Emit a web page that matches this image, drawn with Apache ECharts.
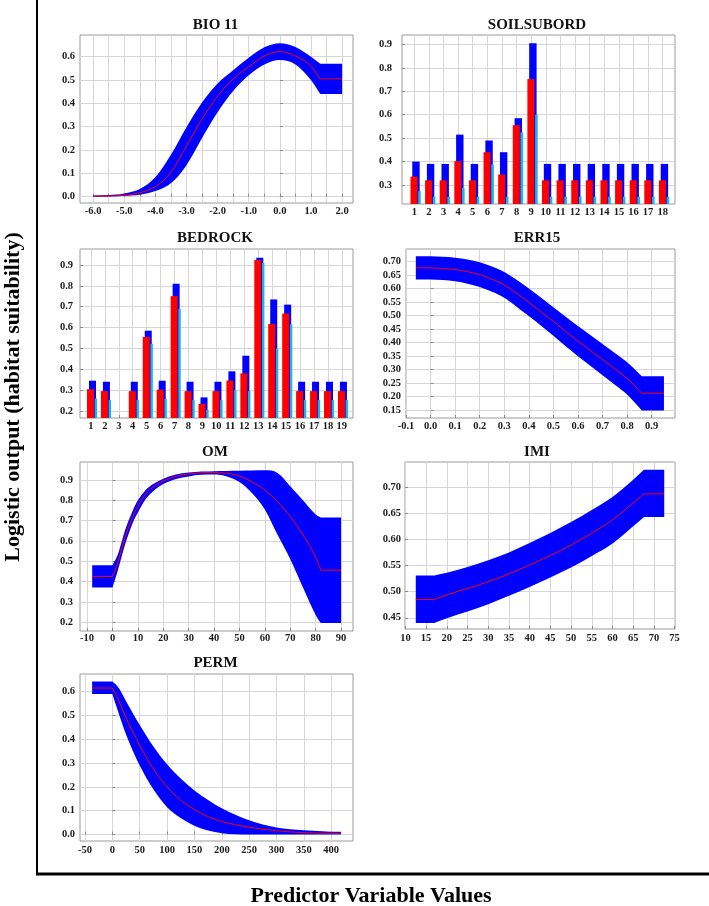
<!DOCTYPE html>
<html>
<head>
<meta charset="utf-8">
<title>Response curves</title>
<script src="https://cdn.jsdelivr.net/npm/echarts@6/dist/echarts.min.js"></script>
<style>
  html, body { margin: 0; padding: 0; background: #fff; }
  #main { width: 709px; height: 906px; }
</style>
</head>
<body>
<div id="main"></div>
<script>
// ---- BIO 11 ----
var bio11X     = [-6.0, -5.5, -5.0, -4.5, -4.0, -3.5, -3.0, -2.5, -2.0, -1.5, -1.0, -0.5, 0.0, 0.5, 1.0, 1.3, 2.0];
var bio11Mean  = [0.002, 0.003, 0.006, 0.017, 0.043, 0.105, 0.218, 0.333, 0.431, 0.505, 0.556, 0.603, 0.622, 0.603, 0.56, 0.505, 0.505];
var bio11Upper = [0.005, 0.007, 0.014, 0.033, 0.083, 0.18, 0.298, 0.404, 0.485, 0.542, 0.595, 0.64, 0.658, 0.642, 0.60, 0.57, 0.57];
var bio11Lower = [0.0, 0.001, 0.003, 0.008, 0.024, 0.058, 0.135, 0.252, 0.362, 0.453, 0.52, 0.567, 0.586, 0.567, 0.50, 0.44, 0.44];

// ---- SOILSUBORD ----
var soilCats  = [1, 2, 3, 4, 5, 6, 7, 8, 9, 10, 11, 12, 13, 14, 15, 16, 17, 18];
var soilUpper = [0.40, 0.39, 0.39, 0.515, 0.39, 0.49, 0.44, 0.585, 0.905, 0.39, 0.39, 0.39, 0.39, 0.39, 0.39, 0.39, 0.39, 0.39];
var soilMean  = [0.336, 0.32, 0.32, 0.402, 0.32, 0.44, 0.345, 0.555, 0.752, 0.32, 0.32, 0.32, 0.32, 0.32, 0.32, 0.32, 0.32, 0.32];
var soilLower = [0.273, 0.25, 0.25, 0.288, 0.25, 0.388, 0.25, 0.525, 0.60, 0.25, 0.25, 0.25, 0.25, 0.25, 0.25, 0.25, 0.25, 0.25];

// ---- BEDROCK ----
var bedCats  = [1, 2, 3, 4, 5, 6, 7, 8, 9, 10, 11, 12, 13, 14, 15, 16, 17, 18, 19];
var bedUpper = [0.345, 0.34, null, 0.34, 0.585, 0.345, 0.81, 0.34, 0.265, 0.34, 0.39, 0.465, 0.935, 0.735, 0.71, 0.34, 0.34, 0.34, 0.34];
var bedMean  = [0.304, 0.295, null, 0.295, 0.555, 0.302, 0.751, 0.295, 0.234, 0.295, 0.346, 0.38, 0.924, 0.617, 0.667, 0.295, 0.295, 0.295, 0.295];
var bedLower = [0.26, 0.252, null, 0.252, 0.522, 0.258, 0.69, 0.252, 0.205, 0.252, 0.30, 0.295, 0.91, 0.50, 0.616, 0.252, 0.252, 0.252, 0.252];

// ---- ERR15 ----
var errX     = [-0.06, 0.0, 0.05, 0.1, 0.15, 0.2, 0.25, 0.3, 0.35, 0.4, 0.45, 0.5, 0.55, 0.6, 0.65, 0.7, 0.75, 0.8, 0.86, 0.95];
var errMean  = [0.677, 0.677, 0.675, 0.671, 0.663, 0.652, 0.635, 0.614, 0.583, 0.549, 0.514, 0.478, 0.441, 0.405, 0.371, 0.337, 0.302, 0.267, 0.212, 0.212];
var errUpper = [0.72, 0.72, 0.718, 0.715, 0.708, 0.698, 0.682, 0.662, 0.633, 0.60, 0.566, 0.531, 0.496, 0.461, 0.428, 0.395, 0.361, 0.327, 0.275, 0.275];
var errLower = [0.634, 0.634, 0.632, 0.627, 0.618, 0.606, 0.588, 0.566, 0.533, 0.498, 0.462, 0.425, 0.386, 0.349, 0.314, 0.279, 0.243, 0.207, 0.148, 0.148];

// ---- OM ----
var omX     = [-8, 0, 2, 5, 8, 10, 13, 16, 20, 25, 30, 35, 40, 45, 50, 55, 60, 65, 70, 75, 80, 82, 90];
var omMean  = [0.425, 0.425, 0.49, 0.62, 0.72, 0.77, 0.83, 0.865, 0.895, 0.918, 0.93, 0.936, 0.937, 0.933, 0.92, 0.89, 0.85, 0.793, 0.72, 0.63, 0.52, 0.456, 0.456];
var omUpper = [0.48, 0.48, 0.53, 0.655, 0.75, 0.80, 0.85, 0.88, 0.907, 0.927, 0.937, 0.942, 0.944, 0.945, 0.946, 0.947, 0.948, 0.935, 0.87, 0.80, 0.73, 0.715, 0.715];
var omLower = [0.37, 0.37, 0.45, 0.585, 0.69, 0.74, 0.805, 0.845, 0.88, 0.905, 0.918, 0.926, 0.927, 0.918, 0.89, 0.835, 0.755, 0.63, 0.51, 0.37, 0.235, 0.195, 0.195];

// ---- IMI ----
var imiX     = [12.5, 17, 20, 25, 30, 35, 40, 45, 50, 55, 60, 65, 67.6, 72.5];
var imiMean  = [0.485, 0.485, 0.494, 0.506, 0.519, 0.534, 0.551, 0.569, 0.589, 0.612, 0.637, 0.67, 0.687, 0.687];
var imiUpper = [0.531, 0.531, 0.536, 0.547, 0.56, 0.575, 0.593, 0.612, 0.633, 0.656, 0.681, 0.714, 0.733, 0.733];
var imiLower = [0.44, 0.44, 0.449, 0.462, 0.476, 0.492, 0.509, 0.527, 0.546, 0.568, 0.592, 0.625, 0.643, 0.643];

// ---- PERM ----
var permX     = [-37, 0, 10, 25, 50, 75, 100, 125, 150, 175, 200, 250, 300, 350, 400, 418];
var permMean  = [0.615, 0.615, 0.57, 0.49, 0.375, 0.275, 0.2, 0.145, 0.105, 0.075, 0.055, 0.031, 0.016, 0.008, 0.005, 0.005];
var permUpper = [0.642, 0.642, 0.62, 0.56, 0.46, 0.37, 0.295, 0.235, 0.185, 0.145, 0.11, 0.06, 0.03, 0.018, 0.012, 0.012];
var permLower = [0.59, 0.59, 0.52, 0.42, 0.29, 0.19, 0.115, 0.07, 0.037, 0.017, 0.006, 0.0, 0.0, 0.0, 0.0, 0.0];

// ---- tick labels / grid lines ----
var bio11XLabels = [-6, -5, -4, -3, -2, -1, 0, 1, 2];
var bio11XGrid   = [-6, -5.5, -5, -4.5, -4, -3.5, -3, -2.5, -2, -1.5, -1, -0.5, 0, 0.5, 1, 1.5, 2];
var bio11YLabels = [0, 0.1, 0.2, 0.3, 0.4, 0.5, 0.6];
var soilYLabels  = [0.3, 0.4, 0.5, 0.6, 0.7, 0.8, 0.9];
var bedYLabels   = [0.2, 0.3, 0.4, 0.5, 0.6, 0.7, 0.8, 0.9];
var errXLabels   = [-0.1, 0, 0.1, 0.2, 0.3, 0.4, 0.5, 0.6, 0.7, 0.8, 0.9];
var errYLabels   = [0.15, 0.2, 0.25, 0.3, 0.35, 0.4, 0.45, 0.5, 0.55, 0.6, 0.65, 0.7];
var omXLabels    = [-10, 0, 10, 20, 30, 40, 50, 60, 70, 80, 90];
var omYLabels    = [0.2, 0.3, 0.4, 0.5, 0.6, 0.7, 0.8, 0.9];
var imiXLabels   = [10, 15, 20, 25, 30, 35, 40, 45, 50, 55, 60, 65, 70, 75];
var imiYLabels   = [0.45, 0.5, 0.55, 0.6, 0.65, 0.7];
var permXLabels  = [-50, 0, 50, 100, 150, 200, 250, 300, 350, 400];
var permYLabels  = [0, 0.1, 0.2, 0.3, 0.4, 0.5, 0.6];

var FONT = '"Liberation Serif", "Times New Roman", serif';
var BLUE = '#0000ff', RED = '#ff0000', CYAN = '#1cb4e4';

function fix(n) { return function (v) { return v.toFixed(n); }; }
function plain(v) { return String(v); }

function zip(xs, ys) {
    var out = [];
    for (var i = 0; i < xs.length; i++) {
        if (ys[i] != null) out.push([xs[i], ys[i]]);
    }
    return out;
}

function makeGrid(l, t, w, h) {
    return { left: l, top: t, width: w, height: h, show: true, borderColor: '#9a9a9a', borderWidth: 1 };
}

function makeAxis(gi, min, max, ticks, labels, fmt, margin) {
    return {
        type: 'value', gridIndex: gi, min: min, max: max,
        axisLine: { show: false },
        axisTick: { show: true, inside: true, length: 3, customValues: ticks, lineStyle: { color: '#8a8a8a' } },
        splitLine: { show: true, lineStyle: { color: '#d6d6d6', width: 1 } },
        axisLabel: {
            customValues: labels, formatter: fmt, margin: margin,
            fontFamily: FONT, fontWeight: 'bold', fontSize: 10.5, color: '#1a1a1a'
        }
    };
}

// monotone cubic segments through pixel points; flat runs stay flat, corners stay sharp
function curveSegs(pts) {
    var n = pts.length, d = [], m = [], segs = [], k;
    for (k = 0; k < n - 1; k++) d.push((pts[k + 1][1] - pts[k][1]) / (pts[k + 1][0] - pts[k][0]));
    m[0] = d[0];
    m[n - 1] = d[n - 2];
    for (k = 1; k < n - 1; k++) {
        var a = d[k - 1], b = d[k];
        if (a === 0 && b !== 0) m[k] = b;
        else if (b === 0 && a !== 0) m[k] = a;
        else if (a * b > 0) m[k] = (a + b) / 2;
        else m[k] = 0;
    }
    for (k = 0; k < n - 1; k++) {
        if (d[k] === 0) continue;
        var al = m[k] / d[k], be = m[k + 1] / d[k], s = al * al + be * be;
        if (s > 9) {
            var t = 3 / Math.sqrt(s);
            m[k] = t * al * d[k];
            m[k + 1] = t * be * d[k];
        }
    }
    for (k = 0; k < n - 1; k++) {
        var h = pts[k + 1][0] - pts[k][0];
        var m0 = d[k] === 0 ? 0 : m[k], m1 = d[k] === 0 ? 0 : m[k + 1];
        segs.push([pts[k][0] + h / 3, pts[k][1] + m0 * h / 3,
                   pts[k + 1][0] - h / 3, pts[k + 1][1] - m1 * h / 3]);
    }
    return segs;
}

function toPts(api, xs, ys) {
    return xs.map(function (x, i) { return api.coord([x, ys[i]]); });
}

// blue band between the lower and upper curve
function band(gi, xs, up, lo) {
    return {
        type: 'custom', xAxisIndex: gi, yAxisIndex: gi, silent: true, clip: true,
        data: [[xs[0], up[0]]],
        renderItem: function (params, api) {
            var pu = toPts(api, xs, up), pl = toPts(api, xs, lo);
            var su = curveSegs(pu), sl = curveSegs(pl), n = xs.length, k;
            var p = 'M' + pu[0][0] + ' ' + pu[0][1];
            for (k = 0; k < n - 1; k++) {
                p += 'C' + su[k][0] + ' ' + su[k][1] + ' ' + su[k][2] + ' ' + su[k][3] + ' ' + pu[k + 1][0] + ' ' + pu[k + 1][1];
            }
            p += 'L' + pl[n - 1][0] + ' ' + pl[n - 1][1];
            for (k = n - 2; k >= 0; k--) {
                p += 'C' + sl[k][2] + ' ' + sl[k][3] + ' ' + sl[k][0] + ' ' + sl[k][1] + ' ' + pl[k][0] + ' ' + pl[k][1];
            }
            p += 'Z';
            return { type: 'path', shape: { pathData: p }, style: { fill: BLUE } };
        }
    };
}

function meanLine(gi, xs, ys) {
    return {
        type: 'custom', xAxisIndex: gi, yAxisIndex: gi, silent: true, clip: true, z: 3,
        data: [[xs[0], ys[0]]],
        renderItem: function (params, api) {
            var pts = toPts(api, xs, ys), sg = curveSegs(pts);
            var p = 'M' + pts[0][0] + ' ' + pts[0][1];
            for (var k = 0; k < pts.length - 1; k++) {
                p += 'C' + sg[k][0] + ' ' + sg[k][1] + ' ' + sg[k][2] + ' ' + sg[k][3] + ' ' + pts[k + 1][0] + ' ' + pts[k + 1][1];
            }
            return { type: 'path', shape: { pathData: p }, style: { fill: 'none', stroke: RED, lineWidth: 1 } };
        }
    };
}

// bars for categorical variables, offset in px from the category position
function bars(gi, cats, vals, color, width, offset) {
    return {
        type: 'custom', xAxisIndex: gi, yAxisIndex: gi, silent: true, clip: true,
        data: zip(cats, vals),
        renderItem: function (params, api) {
            var top = api.coord([api.value(0), api.value(1)]);
            var cs = params.coordSys;
            var bottom = cs.y + cs.height;
            return {
                type: 'rect',
                shape: { x: top[0] + offset - width / 2, y: top[1], width: width, height: bottom - top[1] },
                style: { fill: color }
            };
        }
    };
}

function title(text, x, y) {
    return {
        type: 'text', x: x, y: y,
        style: { text: text, font: 'bold 15px ' + FONT, fill: '#111', textAlign: 'center', textVerticalAlign: 'middle' }
    };
}

var grids = [
    makeGrid(80, 35, 273, 168),    // BIO 11
    makeGrid(402, 35, 273, 169),   // SOILSUBORD
    makeGrid(80, 249, 273, 169),   // BEDROCK
    makeGrid(406, 249, 269, 169),  // ERR15
    makeGrid(80, 462, 273, 169),   // OM
    makeGrid(405, 462, 270, 167),  // IMI
    makeGrid(80, 674, 273, 167)    // PERM
];

var xAxes = [
    makeAxis(0, -6.42, 2.35, bio11XGrid, bio11XLabels, fix(1), 3),
    makeAxis(1, 0.16, 18.84, soilCats, soilCats, plain, 3),
    makeAxis(2, 0.22, 19.8, bedCats, bedCats, plain, 3),
    makeAxis(3, -0.1, 0.995, errXLabels, errXLabels, fix(1), 3),
    makeAxis(4, -12.8, 94.7, omXLabels, omXLabels, plain, 2),
    makeAxis(5, 9.9, 75.1, imiXLabels, imiXLabels, plain, 4),
    makeAxis(6, -59.2, 440, permXLabels, permXLabels, plain, 4)
];

var yAxes = [
    makeAxis(0, -0.027, 0.693, bio11YLabels, bio11YLabels, fix(1), 5),
    makeAxis(1, 0.219, 0.94, soilYLabels, soilYLabels, fix(1), 10),
    makeAxis(2, 0.166, 0.977, bedYLabels, bedYLabels, fix(1), 7),
    makeAxis(3, 0.12, 0.747, errYLabels, errYLabels, fix(2), 5),
    makeAxis(4, 0.156, 0.989, omYLabels, omYLabels, fix(1), 7),
    makeAxis(5, 0.4285, 0.748, imiYLabels, imiYLabels, fix(2), 4),
    makeAxis(6, -0.027, 0.674, permYLabels, permYLabels, fix(1), 5)
];

var series = [
    band(0, bio11X, bio11Upper, bio11Lower), meanLine(0, bio11X, bio11Mean),
    bars(1, soilCats, soilUpper, BLUE, 7.4, 1.7),
    bars(1, soilCats, soilLower, CYAN, 2.6, 5.2),
    bars(1, soilCats, soilMean, RED, 7, -0.3),
    bars(2, bedCats, bedUpper, BLUE, 7, 1.6),
    bars(2, bedCats, bedLower, CYAN, 2.4, 5),
    bars(2, bedCats, bedMean, RED, 7, -0.4),
    band(3, errX, errUpper, errLower), meanLine(3, errX, errMean),
    band(4, omX, omUpper, omLower), meanLine(4, omX, omMean),
    band(5, imiX, imiUpper, imiLower), meanLine(5, imiX, imiMean),
    band(6, permX, permUpper, permLower), meanLine(6, permX, permMean)
];

var chart = echarts.init(document.getElementById('main'), null, { renderer: 'canvas' });
chart.setOption({
    animation: false,
    backgroundColor: '#fff',
    grid: grids,
    xAxis: xAxes,
    yAxis: yAxes,
    series: series,
    graphic: [
        { type: 'line', shape: { x1: 37, y1: 0, x2: 37, y2: 874 }, style: { stroke: '#000', lineWidth: 2 } },
        { type: 'line', shape: { x1: 36, y1: 874, x2: 709, y2: 874 }, style: { stroke: '#000', lineWidth: 3 } },
        {
            type: 'text', x: 13, y: 397, rotation: Math.PI / 2,
            style: { text: 'Logistic output (habitat suitability)', font: 'bold 22px ' + FONT, fill: '#000', textAlign: 'center', textVerticalAlign: 'middle' }
        },
        {
            type: 'text', x: 371, y: 896,
            style: { text: 'Predictor Variable Values', font: 'bold 22px ' + FONT, fill: '#000', textAlign: 'center', textVerticalAlign: 'middle' }
        },
        title('BIO 11', 215.5, 25),
        title('SOILSUBORD', 537, 25),
        title('BEDROCK', 215, 238),
        title('ERR15', 537, 238),
        title('OM', 215, 452),
        title('IMI', 537, 452),
        title('PERM', 215.5, 663)
    ]
});
</script>
</body>
</html>
